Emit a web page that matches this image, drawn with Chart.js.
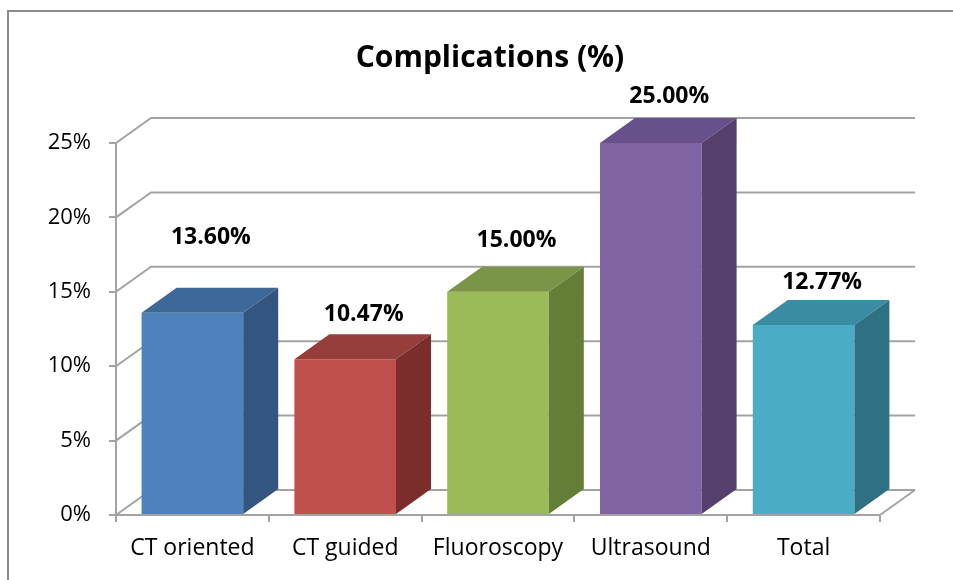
<!DOCTYPE html>
<html lang="en">
<head>
  <meta charset="UTF-8" />
  <title>Complications (%)</title>
  <script src="https://cdn.jsdelivr.net/npm/chart.js"></script>
  <style>
    body { margin: 0; background: #fff; }
    .wrap { position: relative; width: 953px; height: 580px; overflow: hidden; }
    .frame {
      position: absolute; left: 7px; top: 10px; width: 980px; height: 600px;
      border-left: 2px solid #8c8c8c; border-top: 2px solid #8c8c8c;
      pointer-events: none;
    }
  </style>
</head>
<body>
<div class="wrap">
  <canvas id="chart" width="953" height="580"></canvas>
  <div class="frame"></div>
</div>

<script>
  // data
  const categories = ['CT oriented', 'CT guided', 'Fluoroscopy', 'Ultrasound', 'Total'];
  const complications = [13.60, 10.47, 15.00, 25.00, 12.77];
  const yTicks = [0, 5, 10, 15, 20, 25];

  // colours per bar: front / top / side face
  const frontColors = ['#4f81bd', '#c0504d', '#9bbb59', '#8064a2', '#4bacc6'];
  const topColors   = ['#3e6898', '#963e3c', '#7a9547', '#67518a', '#3a8ca3'];
  const sideColors  = ['#33557f', '#7b2d2b', '#647e37', '#553f6d', '#2f7182'];
  // how far each value label sits above its bar (px)
  const labelLift = [50, 20, 26, 22, 18];

  const DX = 35, DY = -25;          // depth of the 3D walls and bars
  const gridColor = '#a3a3a3';
  const fontFamily = "'Open Sans', sans-serif";

  const walls3d = {
    id: 'walls3d',
    beforeDatasetsDraw(chart) {
      const ctx = chart.ctx;
      const { left, right, bottom } = chart.chartArea;
      const yScale = chart.scales.y;
      ctx.save();
      ctx.strokeStyle = gridColor;
      ctx.lineWidth = 2;
      ctx.beginPath();
      yTicks.forEach(v => {
        const y = yScale.getPixelForValue(v);
        ctx.moveTo(left, y);
        ctx.lineTo(left + DX, y + DY);
        ctx.lineTo(right + DX, y + DY);
      });
      ctx.moveTo(right, bottom);
      ctx.lineTo(right + DX, bottom + DY);
      ctx.stroke();
      ctx.restore();
    },
    afterDatasetsDraw(chart) {
      const ctx = chart.ctx;
      const meta = chart.getDatasetMeta(0);
      ctx.save();
      meta.data.forEach((bar, i) => {
        const x0 = bar.x - bar.width / 2;
        const x1 = bar.x + bar.width / 2;
        const top = bar.y, base = bar.base;

        // top face
        ctx.fillStyle = topColors[i];
        ctx.beginPath();
        ctx.moveTo(x0, top);
        ctx.lineTo(x1, top);
        ctx.lineTo(x1 + DX, top + DY);
        ctx.lineTo(x0 + DX, top + DY);
        ctx.closePath();
        ctx.fill();

        // side face
        ctx.fillStyle = sideColors[i];
        ctx.beginPath();
        ctx.moveTo(x1, top);
        ctx.lineTo(x1 + DX, top + DY);
        ctx.lineTo(x1 + DX, base + DY);
        ctx.lineTo(x1, base);
        ctx.closePath();
        ctx.fill();

        // value label
        ctx.fillStyle = '#000';
        ctx.font = 'bold 23px ' + fontFamily;
        ctx.textAlign = 'center';
        ctx.textBaseline = 'middle';
        ctx.fillText(complications[i].toFixed(2) + '%', bar.x + DX / 2 + 1, top + DY - labelLift[i]);
      });
      ctx.restore();
    }
  };

  new Chart(document.getElementById('chart'), {
    type: 'bar',
    data: {
      labels: categories,
      datasets: [{
        data: complications,
        backgroundColor: frontColors,
        borderWidth: 0,
        barPercentage: 0.665,
        categoryPercentage: 1
      }]
    },
    options: {
      responsive: false,
      devicePixelRatio: 1,
      animation: false,
      // left padding nudges the title centre to the right like the original
      layout: { padding: { left: 27, right: 0, top: 0, bottom: 0 } },
      plugins: {
        legend: { display: false },
        tooltip: { enabled: false },
        title: {
          display: true,
          text: 'Complications (%)',
          color: '#000',
          font: { family: fontFamily, size: 30, weight: 'bold' },
          padding: { top: 40, bottom: 67 }
        }
      },
      scales: {
        x: {
          grid: { drawOnChartArea: false, drawTicks: true, tickLength: 7, color: gridColor, lineWidth: 2 },
          border: { display: true, color: gridColor, width: 2 },
          ticks: { color: '#000', font: { family: fontFamily, size: 23 }, padding: 13, maxRotation: 0 },
          afterFit: s => { s.height = 65; }
        },
        y: {
          min: 0,
          max: 25,
          afterBuildTicks: s => { s.ticks = yTicks.map(v => ({ value: v })); },
          grid: { drawOnChartArea: false, drawTicks: true, tickLength: 7, color: gridColor, lineWidth: 2 },
          border: { display: true, color: gridColor, width: 2 },
          ticks: {
            color: '#000',
            font: { family: fontFamily, size: 22 },
            padding: 18,
            callback: v => v + '%'
          },
          afterFit: s => { s.width = 89; }
        },
        // empty right-hand scale only reserves room for the 3D back wall
        spacer: {
          type: 'linear',
          position: 'right',
          grid: { display: false },
          border: { display: false },
          ticks: { display: false },
          afterFit: s => { s.width = 73; }
        }
      }
    },
    plugins: [walls3d]
  });
</script>
</body>
</html>
